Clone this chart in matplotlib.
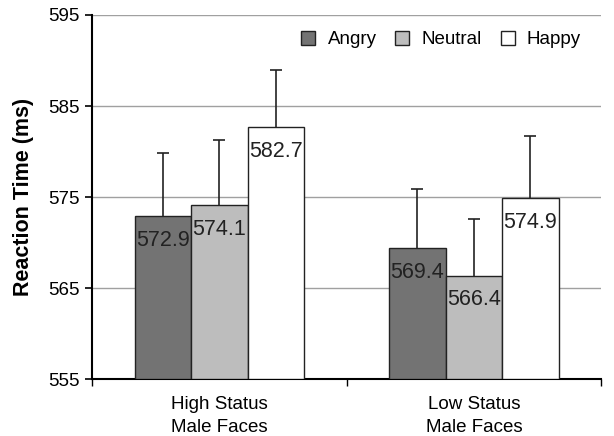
import matplotlib.pyplot as plt
import numpy as np

plt.rcParams['font.family'] = ['Liberation Sans', 'DejaVu Sans']

groups = ['High Status\nMale Faces', 'Low Status\nMale Faces']
conditions = ['Angry', 'Neutral', 'Happy']
angry = [572.9, 569.4]
neutral = [574.1, 566.4]
happy = [582.7, 574.9]
angry_err = [7.0, 6.5]
neutral_err = [7.2, 6.2]
happy_err = [6.3, 6.8]
colors = ['#737373', '#bdbdbd', '#ffffff']

fig = plt.figure(figsize=(6.14, 4.36), dpi=100)
ax = fig.add_axes([0.150, 0.1296, 0.829, 0.836])

x = np.arange(len(groups))
w = 0.222
series = [angry, neutral, happy]
errs = [angry_err, neutral_err, happy_err]
for i, (vals, err, c, name) in enumerate(zip(series, errs, colors, conditions)):
    pos = x + (i - 1) * w
    ax.bar(pos, np.array(vals) - 555, w, bottom=555, color=c, edgecolor='#222222',
           linewidth=1, label=name, zorder=3)
    eb = ax.errorbar(pos, vals, yerr=[np.zeros(len(err)), err], fmt='none',
                     ecolor='#222222', elinewidth=1.2, capsize=4, capthick=1.2, zorder=2)
    eb[1][0].set_visible(False)
    for p, v in zip(pos, vals):
        ax.annotate(f'{v:.1f}', (p, v), xytext=(0, -17.5), textcoords='offset points',
                    ha='center', va='center', fontsize=15.5, color='#222222', zorder=4)

ax.set_ylim(555, 595)
ax.set_xlim(-0.5, 1.5)
ax.set_yticks([555, 565, 575, 585, 595])
ax.yaxis.grid(True, color='#a0a0a0', linewidth=1, zorder=0)
ax.set_axisbelow(True)
ax.set_xticks(x)
ax.set_xticklabels(groups, fontsize=13.5, linespacing=1.45)
ax.set_xticks([-0.5, 0.5, 1.5], minor=True)
ax.tick_params(axis='x', which='major', length=0, pad=12)
ax.tick_params(axis='x', which='minor', length=5, width=1)
ax.tick_params(axis='y', labelsize=13.5, length=5, width=1.2, pad=4)
for s in ['top', 'right']:
    ax.spines[s].set_visible(False)
ax.spines['left'].set_linewidth(1.5)
ax.spines['bottom'].set_linewidth(1.5)
ax.set_ylabel('Reaction Time (ms)', fontsize=15.5, fontweight='bold', labelpad=10)

ax.legend(loc='center right', bbox_to_anchor=(0.975, 0.932), borderaxespad=0,
          ncol=3, frameon=False, fontsize=13.5, handlelength=0.75, handleheight=0.75,
          handletextpad=0.65, columnspacing=1.0)

fig.savefig('out.png', dpi=100)
